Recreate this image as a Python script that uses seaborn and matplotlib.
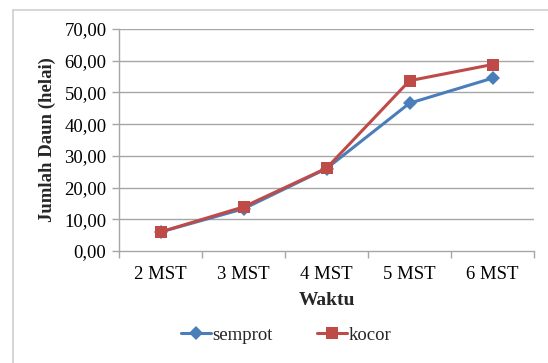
import matplotlib
matplotlib.use("Agg")
import matplotlib.pyplot as plt
import seaborn as sns
import pandas as pd
from matplotlib.lines import Line2D
from matplotlib.ticker import FixedLocator, FuncFormatter

categories = ["2 MST", "3 MST", "4 MST", "5 MST", "6 MST"]
semprot = [6.0, 13.3, 26.0, 46.6, 54.5]
kocor = [6.0, 13.9, 26.1, 53.7, 58.8]
series_names = ["semprot", "kocor"]
yticks = [0, 10, 20, 30, 40, 50, 60, 70]

df = pd.DataFrame({
    "Waktu": categories * 2,
    "x": list(range(len(categories))) * 2,
    "value": semprot + kocor,
    "series": ["semprot"] * len(categories) + ["kocor"] * len(categories),
})

sns.set_theme(style="white")
plt.rcParams["font.family"] = ["Liberation Serif", "DejaVu Serif"]

fig = plt.figure(figsize=(5.48, 3.63), dpi=100)
ax = fig.add_axes([119 / 548, 1 - 251 / 363, (534 - 119) / 548, (251 - 29) / 363])

palette = {"semprot": "#4A7EBB", "kocor": "#BE4B48"}
markers = {"semprot": "D", "kocor": "s"}
sq_size, dm_size = 9.0, 7.0
sns.lineplot(data=df, x="x", y="value", hue="series", style="series",
             hue_order=series_names, style_order=series_names,
             palette=palette, markers=markers, dashes=False,
             linewidth=2.2, markeredgewidth=0, ax=ax, legend=False)
for ln in ax.lines:
    if ln.get_marker() == "s":
        ln.set_markersize(sq_size)
    else:
        ln.set_markersize(dm_size)

ax.set_xlim(-0.5, 4.5)
ax.set_ylim(0, 70)
ax.set_yticks(yticks)
ax.yaxis.set_major_formatter(FuncFormatter(lambda v, p: f"{v:.2f}".replace(".", ",")))
ax.set_xticks(range(len(categories)))
ax.set_xticklabels(categories)
ax.xaxis.set_minor_locator(FixedLocator([i - 0.5 for i in range(len(categories) + 1)]))

ax.grid(False)
for y in yticks[1:]:
    ax.axhline(y, color="#A6A6A6", linewidth=1.0, zorder=0)

for s in ["top", "right"]:
    ax.spines[s].set_visible(False)
ax.spines["left"].set_color("#A6A6A6")
ax.spines["bottom"].set_color("#A6A6A6")
ax.spines["left"].set_linewidth(1.0)
ax.spines["bottom"].set_linewidth(1.0)

ax.tick_params(axis="x", which="major", length=0, pad=11, labelsize=13.5, colors="black")
ax.tick_params(axis="x", which="minor", length=5, width=1.0, color="#A6A6A6", direction="out", bottom=True)
ax.tick_params(axis="y", which="major", length=5, width=1.0, color="#A6A6A6", direction="out", left=True,
               pad=4, labelsize=13.5, labelcolor="black")

ax.set_xlabel("Waktu", fontsize=14, fontweight="bold", labelpad=6)
ax.set_ylabel("Jumlah Daun (helai)", fontsize=13.5, fontweight="bold", labelpad=6)

handles = [Line2D([0], [0], color=palette[n], marker=markers[n], linewidth=2.2,
                  markersize=(sq_size if n == "kocor" else dm_size), markeredgewidth=0)
           for n in series_names]
fig.legend(handles, series_names, loc="center", bbox_to_anchor=(286 / 548, 1 - 335 / 363),
           ncol=2, frameon=False, fontsize=13.5, handlelength=1.6, handletextpad=0.05,
           columnspacing=2.4)

border_color = "#CFCFCF"
fig.add_artist(Line2D([13 / 548, 1.0], [1 - 10 / 363, 1 - 10 / 363], transform=fig.transFigure,
                      color=border_color, linewidth=1.2))
fig.add_artist(Line2D([13 / 548, 13 / 548], [1 - 10 / 363, 0], transform=fig.transFigure,
                      color=border_color, linewidth=1.2))

fig.savefig("out.png", dpi=100)
